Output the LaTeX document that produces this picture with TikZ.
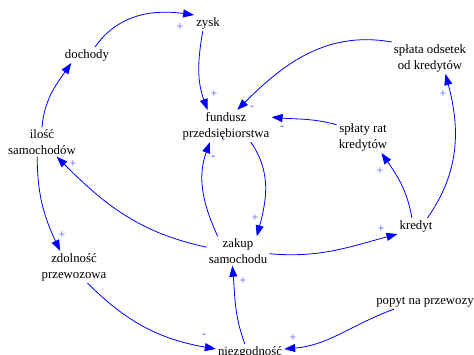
\documentclass[tikz,border=0pt]{standalone}
\usepackage{fontspec}
\setmainfont{Liberation Serif}
\usetikzlibrary{arrows.meta}

\tikzset{
	zmienna/.style={align=center, inner sep=2pt, font=\fontsize{12.8}{16}\selectfont},
	petla/.style={draw=blue, line width=0.8pt, -{Triangle[length=11pt,width=8pt]}},
	znak/.style={text=blue!70, inner sep=0pt, font=\fontsize{12}{14}\selectfont},
}

\begin{document}
\begin{tikzpicture}[x=1pt, y=1pt]
			\useasboundingbox (0,0) rectangle (474,-354);
	
			% Zmienne modelu
			\node[zmienna] (zysk) at (208,-23) {zysk};
			\node[zmienna] (dochody) at (87,-55) {dochody};
			\node[zmienna] (ilosc) at (42,-142) {ilość\\samochodów};
			\node[zmienna] (fundusz) at (226,-126) {fundusz\\przedsiębiorstwa};
			\node[zmienna] (odsetki) at (430,-58) {spłata odsetek\\od kredytów};
			\node[zmienna] (raty) at (363,-137) {spłaty rat\\kredytów};
			\node[zmienna] (kredyt) at (416,-226) {kredyt};
			\node[zmienna] (zakup) at (238,-251) {zakup\\samochodu};
			\node[zmienna] (zdolnosc) at (74,-267) {zdolność\\przewozowa};
			\node[zmienna] (popyt) at (425,-302) {popyt na przewozy};
			\node[zmienna] (niezg) at (250,-352) {niezgodność};
	
			% Pętla dochodów
			\draw[petla] (dochody.45) to[out=55, in=172] (zysk.150);
			\draw[petla] (ilosc.north) to[out=85, in=235] (dochody.207);
			\draw[petla] (zysk.237) to[out=260, in=110] (fundusz.139);
			\draw[petla] (fundusz.-33) to[out=-55, in=75] (zakup.38);
			\draw[petla] (zakup.144) to[out=115, in=-110] (fundusz.225);
			\draw[petla] (zakup.173) to[out=168, in=-45] (ilosc.-45);
	
			% Kredyt i spłaty
			\draw[petla] (zakup.-5) to[out=-5, in=195] (kredyt.south west);
			\draw[petla] (kredyt.117) to[out=100, in=-55] (raty.-41);
			\draw[petla] (kredyt.35) to[out=55, in=-75] (odsetki.-46);
			\draw[petla] (raty.155) to[out=165, in=-5] (fundusz.11);
			\draw[petla] (odsetki.north west) to[out=170, in=45] (fundusz.55);
	
			% Przewozy
			\draw[petla] (ilosc.252) to[out=-90, in=115] (zdolnosc.131);
			\draw[petla] (zdolnosc.-50) to[out=-45, in=170] (niezg.175);
			\draw[petla] (popyt.193) to[out=200, in=5] (niezg.5);
			\draw[petla] (niezg.123) to[out=110, in=-85] (zakup.249);
	
			% Znaki
			\node[znak] (z1) at (180,-27) {+};
			\node[znak] (z2) at (214,-94) {+};
			\node[znak] (z3) at (252,-108) {-};
			\node[znak] (z4) at (282,-128) {-};
			\node[znak] (z5) at (255,-218) {+};
			\node[znak] (z6) at (213,-158) {-};
			\node[znak] (z7) at (73,-164) {+};
			\node[znak] (z8) at (62,-235) {+};
			\node[znak] (z9) at (381,-229) {+};
			\node[znak] (z10) at (380,-171) {+};
			\node[znak] (z11) at (443,-94) {+};
			\node[znak] (z12) at (204,-336) {-};
			\node[znak] (z13) at (243,-281) {+};
			\node[znak] (z14) at (293,-338) {+};
	
		\end{tikzpicture}
\end{document}
